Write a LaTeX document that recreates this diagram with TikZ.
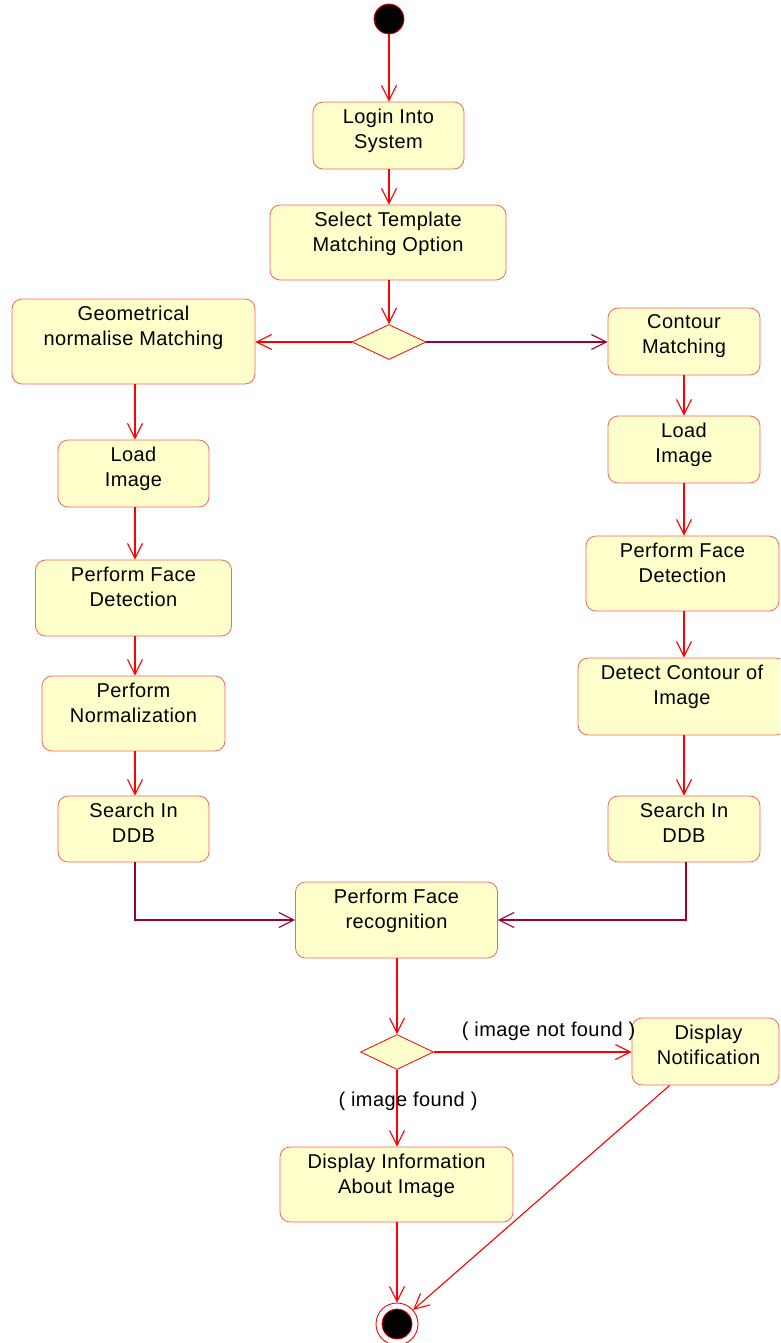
\documentclass[tikz,border=0pt]{standalone}
\usepackage{fontspec}
\setmainfont{Liberation Sans}[LetterSpace=2]
\usetikzlibrary{arrows.meta,shapes.geometric}
\definecolor{actfill}{RGB}{255,255,204}
\definecolor{actline}{RGB}{245,100,100}
\definecolor{flowred}{RGB}{255,0,0}
\definecolor{flowdark}{RGB}{153,0,51}

\begin{document}
\begin{tikzpicture}[x=1pt,y=-1pt,
  act/.style={draw=actline, fill=actfill, rounded corners=10pt, line width=0.8pt, inner sep=0pt},
  sz/.style 2 args={minimum width=#1pt, minimum height=#2pt},
  decision/.style={diamond, draw=flowred, fill=actfill, line width=0.8pt, inner sep=0pt,
    minimum width=74pt, minimum height=35pt, aspect=2.1},
  txt/.style={anchor=north, inner sep=0pt, align=center, text=black,
    font=\fontsize{20}{25}\selectfont},
  guard/.style={inner sep=0pt, anchor=base, text=black, font=\fontsize{20}{25}\selectfont},
  flow/.style={draw=flowred, line width=1.1pt,
    -{Straight Barb[length=15pt,width=15pt,line width=1.1pt]}},
  flowd/.style={flow, draw=flowdark},
]
\useasboundingbox (0,0) rectangle (780,1343);
\clip (0,0) rectangle (780,1343);

% initial and final states
\node[circle, fill=black, draw=flowred, line width=0.8pt, minimum size=30pt, inner sep=0pt] (start) at (389,19) {};
\node[circle, draw=flowred, line width=0.9pt, minimum size=42pt, inner sep=0pt] (end) at (397,1324) {};
\filldraw[fill=black, draw=flowred, line width=0.8pt] (end.center) circle (15pt);

% activities
\node[act, sz={151}{67}]  (login)   at (388.5,135.5) {};
\node[act, sz={236}{75}]  (select)  at (388,242.5) {};
\node[decision]           (d1)      at (389,342) {};
\node[act, sz={243}{85}]  (geo)     at (133.5,341.5) {};
\node[act, sz={152}{67}]  (contour) at (684,341.5) {};
\node[act, sz={151}{67}]  (loadL)   at (133.5,473.5) {};
\node[act, sz={196}{76}]  (faceL)   at (133.5,598) {};
\node[act, sz={183}{75}]  (norm)    at (133.5,713.5) {};
\node[act, sz={151}{66}]  (searchL) at (133.5,829) {};
\node[act, sz={152}{67}]  (loadR)   at (684,449.5) {};
\node[act, sz={193}{75}]  (faceR)   at (682.5,573.5) {};
\node[act, sz={208}{77}]  (detect)  at (682,696.5) {};
\node[act, sz={152}{66}]  (searchR) at (684,829) {};
\node[act, sz={202}{76}]  (recog)   at (396.5,920) {};
\node[decision, minimum width=73pt] (d2) at (397,1052) {};
\node[act, sz={147}{67}]  (notif)   at (705.5,1051.5) {};
\node[act, sz={233}{75}]  (info)    at (396.5,1184.5) {};

% activity texts
\node[txt] (login-t)   at ([yshift=-7pt]login.north)   {Login Into\\System};
\node[txt] (select-t)  at ([yshift=-7pt]select.north)  {Select Template\\Matching Option};
\node[txt] (geo-t)     at ([yshift=-7pt]geo.north)     {Geometrical\\normalise Matching};
\node[txt] (contour-t) at ([yshift=-7pt]contour.north) {Contour\\Matching};
\node[txt] (loadL-t)   at ([yshift=-7pt]loadL.north)   {Load\\Image};
\node[txt] (faceL-t)   at ([yshift=-7pt]faceL.north)   {Perform Face\\Detection};
\node[txt] (norm-t)    at ([yshift=-7pt]norm.north)    {Perform\\Normalization};
\node[txt] (searchL-t) at ([yshift=-7pt]searchL.north) {Search In\\DDB};
\node[txt] (loadR-t)   at ([yshift=-7pt]loadR.north)   {Load\\Image};
\node[txt] (faceR-t)   at ([yshift=-7pt]faceR.north)   {Perform Face\\Detection};
\node[txt] (detect-t)  at ([yshift=-7pt]detect.north)  {Detect Contour of\\Image};
\node[txt] (searchR-t) at ([yshift=-7pt]searchR.north) {Search In\\DDB};
\node[txt] (recog-t)   at ([yshift=-7pt]recog.north)   {Perform Face\\recognition};
\node[txt] (notif-t)   at ([xshift=3pt,yshift=-7pt]notif.north) {Display\\Notification};
\node[txt] (info-t)    at ([yshift=-7pt]info.north)    {Display Information\\About Image};

% main flow
\draw[flow] (start.south) -- (start.south |- login.north);
\draw[flow] (login.south -| start) -- (select.north -| start);
\draw[flow] (select.south -| d1) -- (d1.north);
\draw[flow] (d1.west) -- (geo.east |- d1.west);
\draw[flowd] (d1.east) -- (contour.west |- d1.east);

% left branch
\draw[flow] ([xshift=1.5pt]geo.south) -- ([xshift=1.5pt]geo.south |- loadL.north);
\draw[flow] ([xshift=1.5pt]loadL.south) -- ([xshift=1.5pt]loadL.south |- faceL.north);
\draw[flow] ([xshift=1.5pt]faceL.south) -- ([xshift=1.5pt]faceL.south |- norm.north);
\draw[flow] ([xshift=1.5pt]norm.south) -- ([xshift=1.5pt]norm.south |- searchL.north);
\draw[flowd] ([xshift=1.5pt]searchL.south) |- (recog.west);

% right branch
\draw[flow] (contour.south) -- (contour.south |- loadR.north);
\draw[flow] (loadR.south) -- (loadR.south |- faceR.north);
\draw[flow] (loadR.south |- faceR.south) -- (loadR.south |- detect.north);
\draw[flow] (loadR.south |- detect.south) -- (loadR.south |- searchR.north);
\draw[flowd] ([xshift=2pt]searchR.south) |- (recog.east);

% recognition outcome
\draw[flow] (recog.south -| d2) -- (d2.north);
\draw[flow] (d2.east) -- node[guard, pos=0.58, yshift=16pt] (lbl-nf) {( image not found )} (notif.west |- d2.east);
\draw[flow] (d2.south) -- node[guard, pos=0.48, xshift=11pt] (lbl-f) {( image found )} (info.north -| d2);
\draw[flow] (info.south -| d2) -- (end.north);
\draw[flow] ([xshift=38pt]notif.south west) -- (end);
\end{tikzpicture}
\end{document}
